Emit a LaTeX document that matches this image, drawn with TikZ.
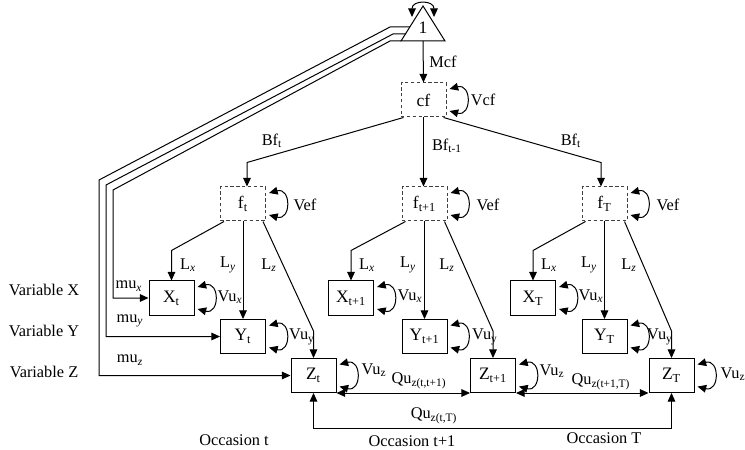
\documentclass[tikz,border=0pt]{standalone}
\usepackage{fontspec}
\setmainfont{Liberation Serif}
\usetikzlibrary{positioning, arrows.meta, calc}

\newcommand{\sbs}[1]{\textsubscript{#1}}
\newcommand{\isbs}[1]{\textsubscript{\textit{#1}}}
\newcommand{\varloop}[1]{%
  \draw[darr] ($(#1.east)+(3,-11)$) to[out=15,in=-15,looseness=2.7] ($(#1.east)+(3,11)$);}

\tikzset{
  latbox/.style={draw=black!75, dash pattern=on 2pt off 1.5pt,
                 minimum width=27pt, minimum height=20.4pt, inner sep=0pt,
                 font=\fontsize{10.5}{12}\selectfont},
  obsbox/.style={draw, minimum width=27pt, minimum height=20.4pt, inner sep=0pt,
                 font=\fontsize{10.5}{12}\selectfont},
  arr/.style={-{Triangle[length=5.2pt,width=4.6pt]}},
  darr/.style={{Triangle[length=5.2pt,width=4.6pt]}-{Triangle[length=5.2pt,width=4.6pt]}},
  lbl/.style={inner sep=0pt},
}

\begin{document}
\begin{tikzpicture}[x=0.6pt, y=-0.6pt, line width=0.6pt,
                    font=\fontsize{9.8}{11}\selectfont]
  \useasboundingbox (0,0) rectangle (745,450);

  % constant (triangle)
  \coordinate (apex) at (423,6);
  \coordinate (baseL) at (401,41);
  \coordinate (baseR) at (445,41);
  \coordinate (tribase) at (423,41);
  \draw (apex) -- (baseR) -- (baseL) -- cycle;
  \node[lbl, font=\fontsize{10.5}{12}\selectfont] (one) at (423,28) {1};
  \draw[darr] (412,17) to[out=90,in=90,looseness=2] (434,17);

  % latent factors
  \node[latbox] (cf)  at (423.5,100) {cf};
  \node[latbox] (ft)  at (243,204)   {f\sbs{t}};
  \node[latbox] (ft1) at (424.5,204) {f\sbs{t+1}};
  \node[latbox] (fT)  at (604.5,204) {f\sbs{T}};

  % observed variables
  \node[obsbox] (Xt)  at (171.5,298) {X\sbs{t}};
  \node[obsbox] (Xt1) at (351,298)   {X\sbs{t+1}};
  \node[obsbox] (XT)  at (533,298)   {X\sbs{T}};
  \node[obsbox] (Yt)  at (243,336.5) {Y\sbs{t}};
  \node[obsbox] (Yt1) at (424.5,336.5) {Y\sbs{t+1}};
  \node[obsbox] (YT)  at (604.5,336.5) {Y\sbs{T}};
  \node[obsbox] (Zt)  at (313.5,375.5) {Z\sbs{t}};
  \node[obsbox] (Zt1) at (493,375.5) {Z\sbs{t+1}};
  \node[obsbox] (ZT)  at (671.5,375.5) {Z\sbs{T}};

  % paths from the constant
  \draw[arr] (tribase) -- (cf.north);
  \node[lbl] (lMcf) at (443,62) {Mcf};
  \coordinate (triZ) at (410,27);
  \coordinate (triY) at (406,34);
  \draw[arr] (triZ) -- (390,27) -- (99,180) |- (Zt.west);
  \draw[arr] (triY) -- (393,34) -- (106,185) |- (Yt.west);
  \draw[arr] (baseL) -- (390,41) -- (113,190) |- (Xt.west);
  \node[lbl] (lmux) at (129,286) {mu\isbs{x}};
  \node[lbl] (lmuy) at (130,321) {mu\isbs{y}};
  \node[lbl] (lmuz) at (130,360) {mu\isbs{z}};

  % second order loadings
  \draw[arr] ($(cf.south west)+(3,0)$) -- ($(ft.north)+(4,-24)$) -- ($(ft.north)+(4,0)$);
  \draw[arr] (cf.south) -- (cf.south |- ft1.north);
  \draw[arr] ($(cf.south east)+(-3,0)$) -- ($(fT.north)+(-3.5,-24)$) -- ($(fT.north)+(-3.5,0)$);
  \node[lbl] (lBft)  at (272,141) {Bf\sbs{t}};
  \node[lbl] (lBft1) at (447,146) {Bf\sbs{t-1}};
  \node[lbl] (lBfT)  at (571,141) {Bf\sbs{t}};

  % first order loadings
  \foreach \f/\x/\y/\z in {ft/Xt/Yt/Zt, ft1/Xt1/Yt1/Zt1, fT/XT/YT/ZT} {
    \draw[arr] ($(\f.south west)+(4,0)$) -- ($(\x.north)+(0,-30)$) -- (\x.north);
    \draw[arr] (\f.south) -- (\y.north);
    \draw[arr] ($(\f.south east)+(-3,0)$) -- ($(\z.north)+(0,-27)$) -- (\z.north);
  }
  \node[lbl] (lLx1) at (188,265) {L\isbs{x}};
  \node[lbl] (lLy1) at (228,265) {L\isbs{y}};
  \node[lbl] (lLz1) at (269,265) {L\isbs{z}};
  \node[lbl] (lLx2) at (367,265) {L\isbs{x}};
  \node[lbl] (lLy2) at (408,265) {L\isbs{y}};
  \node[lbl] (lLz2) at (447,265) {L\isbs{z}};
  \node[lbl] (lLx3) at (549,265) {L\isbs{x}};
  \node[lbl] (lLy3) at (589,265) {L\isbs{y}};
  \node[lbl] (lLz3) at (629,265) {L\isbs{z}};

  % variances
  \foreach \n in {cf, ft, ft1, fT, Xt, Xt1, XT, Yt, Yt1, YT, Zt, Zt1, ZT}
    \varloop{\n};
  \node[lbl] (lVcf)  at (483,100) {Vcf};
  \node[lbl] (lVef1) at (305,205) {Vef};
  \node[lbl] (lVef2) at (488,205) {Vef};
  \node[lbl] (lVef3) at (668,205) {Vef};
  \node[lbl] (lVux1) at (230,297) {Vu\isbs{x}};
  \node[lbl] (lVux2) at (410,296) {Vu\isbs{x}};
  \node[lbl] (lVux3) at (591,296) {Vu\isbs{x}};
  \node[lbl] (lVuy1) at (302,337) {Vu\sbs{y}};
  \node[lbl] (lVuy2) at (485,337) {Vu\sbs{y}};
  \node[lbl] (lVuy3) at (660,337) {Vu\sbs{y}};
  \node[lbl] (lVuz1) at (374,370) {Vu\sbs{z}};
  \node[lbl] (lVuz2) at (552,371) {Vu\sbs{z}};
  \node[lbl] (lVuz3) at (733,374) {Vu\sbs{z}};

  % residual covariances of Z
  \draw[darr] (Zt.south east) -- (Zt1.south west);
  \draw[darr] (Zt1.south east) -- (ZT.south west);
  \draw[darr] (Zt.south) -- ++(0,35) -| (ZT.south);
  \node[lbl] (lQu1) at (419,381) {Qu\sbs{z(t,t+1)}};
  \node[lbl] (lQu2) at (601,382) {Qu\sbs{z(t+1,T)}};
  \node[lbl] (lQu3) at (434,416) {Qu\sbs{z(t,T)}};

  % row and column captions
  \node[lbl] (varX) at (44,290) {Variable X};
  \node[lbl] (varY) at (44,331) {Variable Y};
  \node[lbl] (varZ) at (44,372) {Variable Z};
  \node[lbl] (occt)  at (234,440) {Occasion t};
  \node[lbl] (occt1) at (412,441) {Occasion t+1};
  \node[lbl] (occT)  at (604,438) {Occasion T};
\end{tikzpicture}
\end{document}
